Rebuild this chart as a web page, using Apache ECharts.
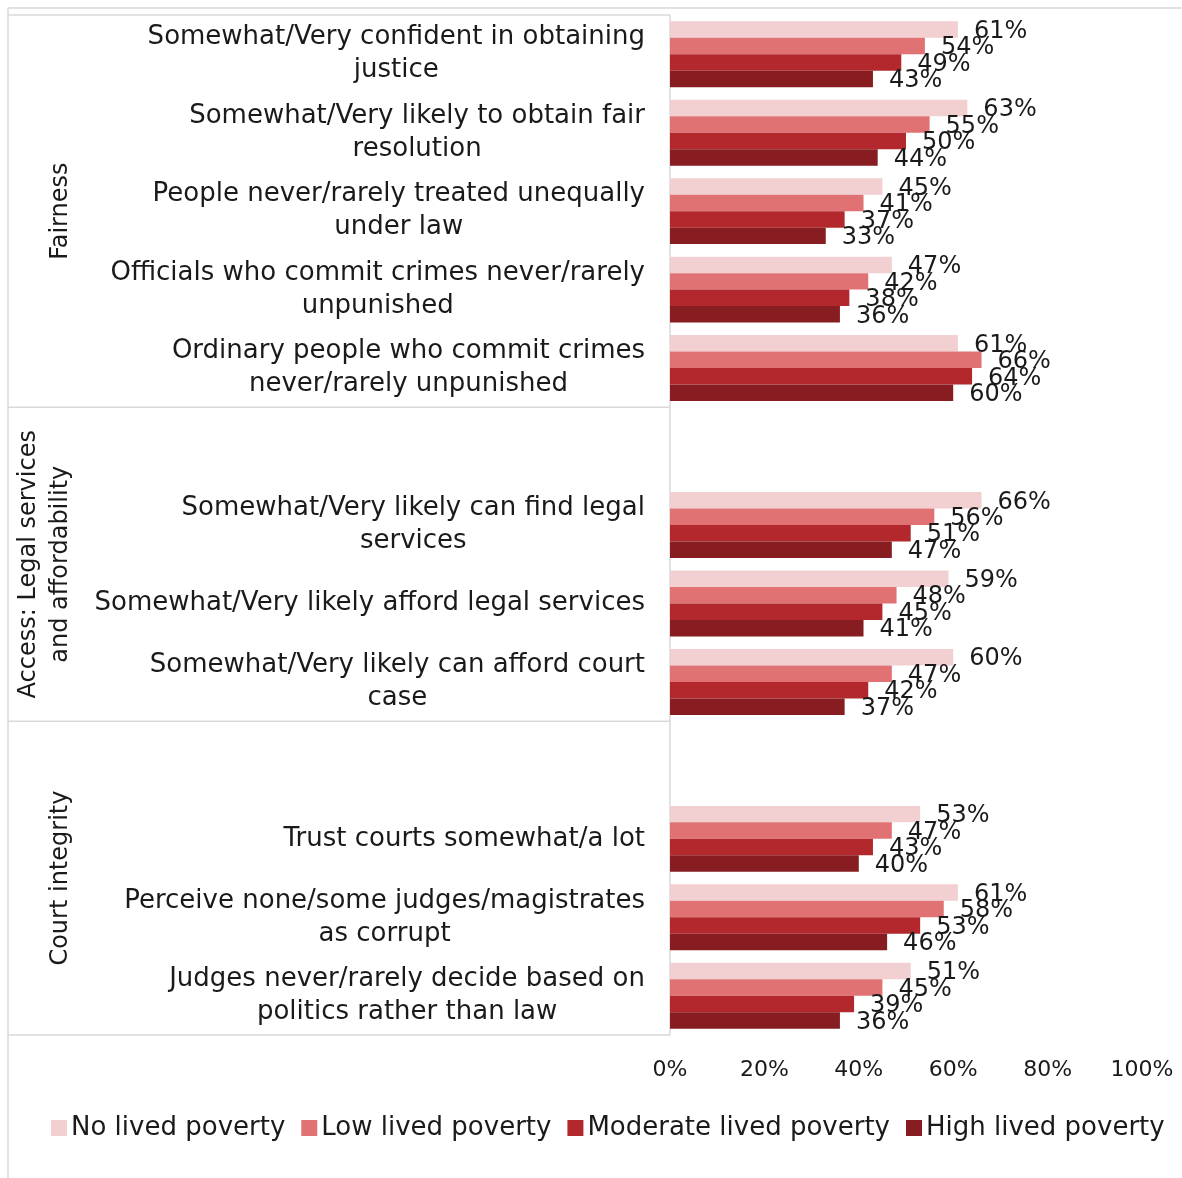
<!DOCTYPE html>
<html>
<head>
<meta charset="utf-8">
<script src="https://cdn.jsdelivr.net/npm/echarts@6/dist/echarts.min.js"></script>
<style>
  html, body { margin: 0; padding: 0; background: #fff; }
  #chart { width: 1182px; height: 1178px; }
</style>
</head>
<body>
<div id="chart"></div>
<script>
// Survey items, top to bottom; empty strings are spacer rows between groups
const categories = [
  'Somewhat/Very confident in obtaining\njustice',
  'Somewhat/Very likely to obtain fair\nresolution',
  'People never/rarely treated unequally\nunder law',
  'Officials who commit crimes never/rarely\nunpunished',
  'Ordinary people who commit crimes\nnever/rarely unpunished',
  '',
  'Somewhat/Very likely can find legal\nservices',
  'Somewhat/Very likely afford legal services',
  'Somewhat/Very likely can afford court\ncase',
  '',
  'Trust courts somewhat/a lot',
  'Perceive none/some judges/magistrates\nas corrupt',
  'Judges never/rarely decide based on\npolitics rather than law'
];

const seriesNames = ['No lived poverty', 'Low lived poverty', 'Moderate lived poverty', 'High lived poverty'];

// Percent of respondents per item
const noPoverty       = [61, 63, 45, 47, 61, null, 66, 59, 60, null, 53, 61, 51];
const lowPoverty      = [54, 55, 41, 42, 66, null, 56, 48, 47, null, 47, 58, 45];
const moderatePoverty = [49, 50, 37, 38, 64, null, 51, 45, 42, null, 43, 53, 39];
const highPoverty     = [43, 44, 33, 36, 60, null, 47, 41, 37, null, 40, 46, 36];

// Group bands on the category axis (inclusive row indices)
const groups = [
  { name: 'Fairness', from: 0, to: 4 },
  { name: 'Access: Legal services\nand affordability', from: 5, to: 8 },
  { name: 'Court integrity', from: 9, to: 12 }
];

// Value axis ticks
const axisMin = 0;
const axisMax = 100;
const axisStep = 20;

const colors = ['#f2cfd1', '#e07274', '#b2282d', '#871d21'];
const FONT = '"DejaVu Sans", sans-serif';
const LINE = '#d9d9d9';
const INK = '#1a1a1a';

const chart = echarts.init(document.getElementById('chart'), null, { renderer: 'canvas' });

const seriesData = [noPoverty, lowPoverty, moderatePoverty, highPoverty];

chart.setOption({
  animation: false,
  color: colors,
  textStyle: { fontFamily: FONT, color: INK },
  grid: { left: 670, right: 40, top: 15, bottom: 143, containLabel: false },
  legend: {
    bottom: 32,
    left: 46,
    itemWidth: 16,
    itemHeight: 16,
    itemGap: 16,
    icon: 'rect',
    textStyle: { fontFamily: FONT, fontSize: 26, color: INK, padding: [0, 0, 0, -1] },
    data: seriesNames
  },
  xAxis: {
    type: 'value',
    min: axisMin,
    max: axisMax,
    interval: axisStep,
    axisLine: { show: false },
    axisTick: { show: false },
    splitLine: { show: false },
    axisLabel: {
      formatter: '{value}%',
      fontFamily: FONT,
      fontSize: 22,
      color: INK,
      margin: 24
    }
  },
  yAxis: {
    type: 'category',
    inverse: true,
    data: categories,
    axisLine: { show: true, lineStyle: { color: LINE, width: 1.5 } },
    axisTick: { show: false },
    axisLabel: {
      align: 'right',
      margin: 25,
      // each wrapped line is centred within the label block
      formatter: (val) => val ? val.split('\n').map(l => '{c|' + l + '}').join('\n') : '',
      rich: {
        c: { fontFamily: FONT, fontSize: 26, lineHeight: 33, color: INK, align: 'center' }
      }
    }
  },
  series: seriesNames.map((name, i) => ({
    name: name,
    type: 'bar',
    data: seriesData[i],
    barGap: '0%',
    barCategoryGap: '16%',
    label: {
      show: true,
      position: 'right',
      distance: 16,
      offset: [0, 2],
      formatter: '{c}%',
      fontFamily: FONT,
      fontSize: 24,
      color: INK
    }
  }))
});

// Frame and group bands drawn from the category axis positions
const p0 = chart.convertToPixel({ yAxisIndex: 0 }, 0);
const p1 = chart.convertToPixel({ yAxisIndex: 0 }, 1);
const half = (p1 - p0) / 2;
const axisX = chart.convertToPixel({ xAxisIndex: 0 }, axisMin);
const boxLeft = 8;

const graphics = [
  // outer chart frame (top and left edges)
  { type: 'line', shape: { x1: boxLeft, y1: 8, x2: 1182, y2: 8 }, style: { stroke: LINE, lineWidth: 1.5 }, silent: true },
  { type: 'line', shape: { x1: boxLeft, y1: 8, x2: boxLeft, y2: 1178 }, style: { stroke: LINE, lineWidth: 1.5 }, silent: true }
];

groups.forEach((g, gi) => {
  const top = chart.convertToPixel({ yAxisIndex: 0 }, g.from) - half;
  const bottom = chart.convertToPixel({ yAxisIndex: 0 }, g.to) + half;
  if (gi === 0) {
    graphics.push({ type: 'line', shape: { x1: boxLeft, y1: top, x2: axisX, y2: top }, style: { stroke: LINE, lineWidth: 1.5 }, silent: true });
  }
  graphics.push({ type: 'line', shape: { x1: boxLeft, y1: bottom, x2: axisX, y2: bottom }, style: { stroke: LINE, lineWidth: 1.5 }, silent: true });
  graphics.push({
    type: 'text',
    x: 77,
    y: (top + bottom) / 2,
    rotation: Math.PI / 2,
    silent: true,
    style: {
      text: g.name,
      fontFamily: FONT,
      fontSize: 24,
      lineHeight: 32,
      fill: INK,
      align: 'center',
      verticalAlign: 'bottom'
    }
  });
});

chart.setOption({ graphic: graphics });
</script>
</body>
</html>
